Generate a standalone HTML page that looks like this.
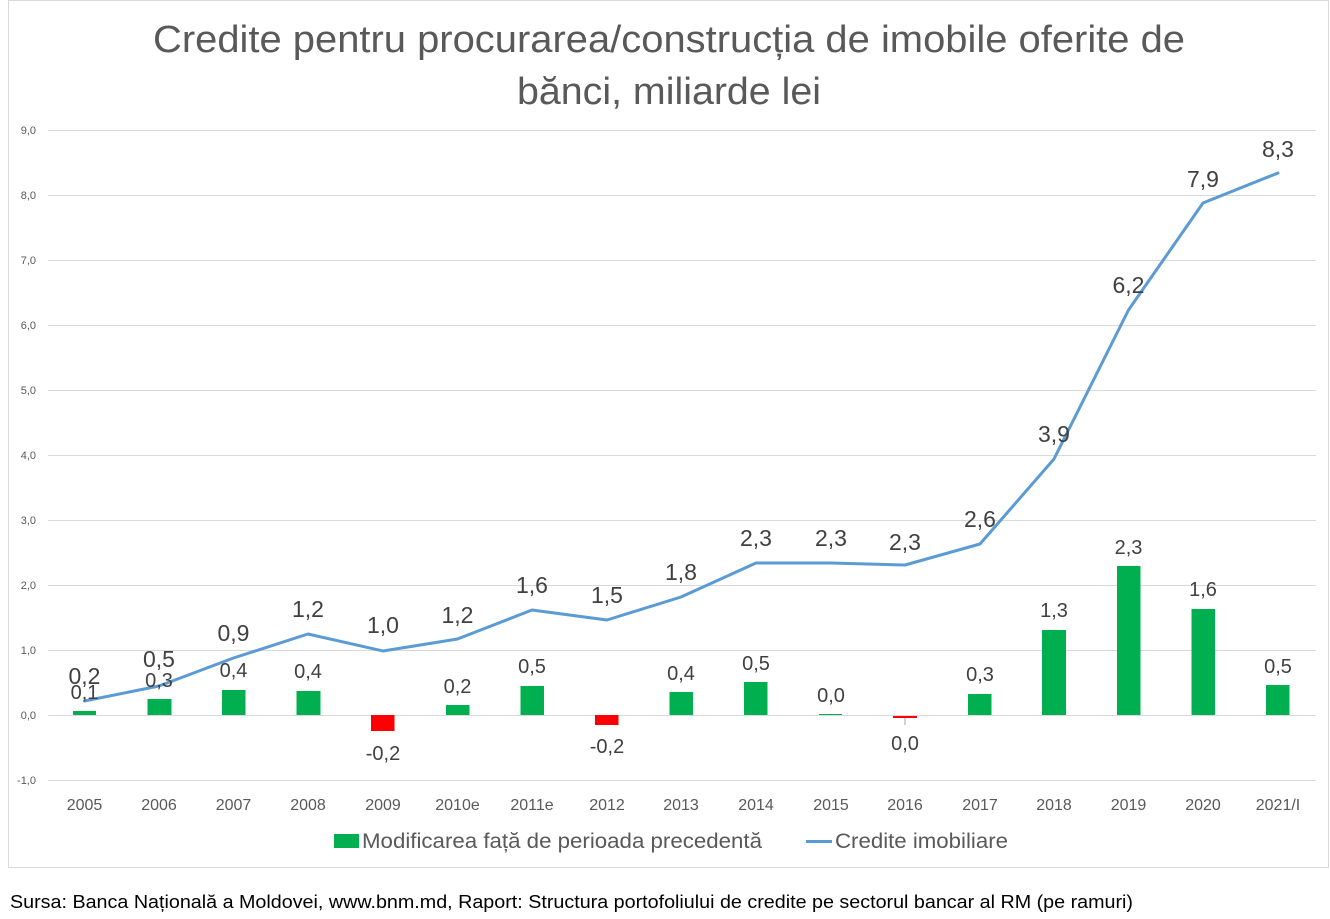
<!DOCTYPE html>
<html>
<head>
<meta charset="utf-8">
<style>
html,body{margin:0;padding:0;background:#fff;}
svg{display:block;font-family:"Liberation Sans",Arial,sans-serif;}
</style>
</head>
<body>
<svg width="1330" height="919" viewBox="0 0 1330 919" xmlns="http://www.w3.org/2000/svg">
<rect x="0" y="0" width="1330" height="919" fill="#fff"/>
<rect x="8.5" y="0.5" width="1320" height="867" fill="#fff" stroke="#d9d9d9" stroke-width="1"/>

<!-- title -->
<text x="669" y="52" text-anchor="middle" font-size="38" fill="#595959" textLength="1032" lengthAdjust="spacingAndGlyphs">Credite pentru procurarea/construcția de imobile oferite de</text>
<text x="669" y="104" text-anchor="middle" font-size="38" fill="#595959" textLength="304" lengthAdjust="spacingAndGlyphs">bănci, miliarde lei</text>

<!-- gridlines -->
<g stroke="#d9d9d9" stroke-width="1">
<line x1="48" y1="130.5" x2="1316" y2="130.5"/>
<line x1="48" y1="195.5" x2="1316" y2="195.5"/>
<line x1="48" y1="260.5" x2="1316" y2="260.5"/>
<line x1="48" y1="325.5" x2="1316" y2="325.5"/>
<line x1="48" y1="390.5" x2="1316" y2="390.5"/>
<line x1="48" y1="455.5" x2="1316" y2="455.5"/>
<line x1="48" y1="520.5" x2="1316" y2="520.5"/>
<line x1="48" y1="585.5" x2="1316" y2="585.5"/>
<line x1="48" y1="650.5" x2="1316" y2="650.5"/>
<line x1="48" y1="715.5" x2="1316" y2="715.5"/>
<line x1="48" y1="780.5" x2="1316" y2="780.5"/>
</g>

<!-- y tick labels -->
<g font-size="11" fill="#595959" text-anchor="end">
<text x="36" y="134">9,0</text>
<text x="36" y="199">8,0</text>
<text x="36" y="264">7,0</text>
<text x="36" y="329">6,0</text>
<text x="36" y="394">5,0</text>
<text x="36" y="459">4,0</text>
<text x="36" y="524">3,0</text>
<text x="36" y="589">2,0</text>
<text x="36" y="654">1,0</text>
<text x="36" y="719">0,0</text>
<text x="36" y="784">-1,0</text>
</g>

<!-- bars -->
<g fill="#00b050">
<rect x="73" y="711" width="23" height="4"/>
<rect x="147.5" y="699" width="24" height="16"/>
<rect x="222" y="690" width="23.5" height="25"/>
<rect x="296.5" y="691" width="24" height="24"/>
<rect x="446" y="705" width="23.5" height="10"/>
<rect x="520.5" y="686" width="23.5" height="29"/>
<rect x="669.5" y="692" width="23.5" height="23"/>
<rect x="744" y="682" width="23.5" height="33"/>
<rect x="819" y="714" width="23" height="1"/>
<rect x="968" y="694" width="23.5" height="21"/>
<rect x="1042" y="630" width="24" height="85"/>
<rect x="1117" y="566" width="23.5" height="149"/>
<rect x="1191.5" y="609" width="23.5" height="106"/>
<rect x="1266" y="685" width="23.5" height="30"/>
</g>
<g fill="#ff0000">
<rect x="371" y="715" width="23.5" height="16"/>
<rect x="595" y="715" width="23.5" height="10"/>
<rect x="893" y="716" width="24" height="2"/>
</g>
<line x1="905" y1="718" x2="905" y2="725" stroke="#a6a6a6" stroke-width="1"/>

<!-- line -->
<polyline fill="none" stroke="#5b9bd5" stroke-width="3" stroke-linejoin="round" stroke-linecap="round"
points="84.5,701 159,686 233.5,658 308,634 383,651 457.5,639 532,610 607,620 681,597 756,563 831,563 905,565 980,544 1054,459 1128.5,310 1203,203 1278,173"/>

<!-- bar labels -->
<g font-size="20" fill="#404040" text-anchor="middle">
<text x="84.5" y="699">0,1</text>
<text x="159" y="687">0,3</text>
<text x="233.5" y="677">0,4</text>
<text x="308" y="678">0,4</text>
<text x="383" y="760">-0,2</text>
<text x="457.5" y="693">0,2</text>
<text x="532" y="673">0,5</text>
<text x="607" y="753">-0,2</text>
<text x="681" y="680">0,4</text>
<text x="756" y="670">0,5</text>
<text x="831" y="702">0,0</text>
<text x="905" y="750">0,0</text>
<text x="980" y="681">0,3</text>
<text x="1054" y="617">1,3</text>
<text x="1128.5" y="554">2,3</text>
<text x="1203" y="596">1,6</text>
<text x="1278" y="673">0,5</text>
</g>

<!-- line labels -->
<g font-size="23" fill="#404040" text-anchor="middle">
<text x="84.5" y="684">0,2</text>
<text x="159" y="667">0,5</text>
<text x="233.5" y="641">0,9</text>
<text x="308" y="617">1,2</text>
<text x="383" y="633">1,0</text>
<text x="457.5" y="623">1,2</text>
<text x="532" y="593">1,6</text>
<text x="607" y="603">1,5</text>
<text x="681" y="580">1,8</text>
<text x="756" y="546">2,3</text>
<text x="831" y="546">2,3</text>
<text x="905" y="550">2,3</text>
<text x="980" y="527">2,6</text>
<text x="1054" y="442">3,9</text>
<text x="1128.5" y="293">6,2</text>
<text x="1203" y="187">7,9</text>
<text x="1278" y="157">8,3</text>
</g>

<!-- category labels -->
<g font-size="16" fill="#595959" text-anchor="middle">
<text x="84.5" y="810">2005</text>
<text x="159" y="810">2006</text>
<text x="233.5" y="810">2007</text>
<text x="308" y="810">2008</text>
<text x="383" y="810">2009</text>
<text x="457.5" y="810">2010e</text>
<text x="532" y="810">2011e</text>
<text x="607" y="810">2012</text>
<text x="681" y="810">2013</text>
<text x="756" y="810">2014</text>
<text x="831" y="810">2015</text>
<text x="905" y="810">2016</text>
<text x="980" y="810">2017</text>
<text x="1054" y="810">2018</text>
<text x="1128.5" y="810">2019</text>
<text x="1203" y="810">2020</text>
<text x="1278" y="810">2021/I</text>
</g>

<!-- legend -->
<rect x="334" y="834" width="25" height="14" fill="#00b050"/>
<text x="362" y="848" font-size="21" fill="#595959" textLength="400" lengthAdjust="spacingAndGlyphs">Modificarea față de perioada precedentă</text>
<line x1="806" y1="841.5" x2="832" y2="841.5" stroke="#5b9bd5" stroke-width="3"/>
<text x="835" y="848" font-size="21" fill="#595959" textLength="173" lengthAdjust="spacingAndGlyphs">Credite imobiliare</text>

<!-- source -->
<text x="10" y="908" font-size="18" fill="#000" textLength="1123" lengthAdjust="spacingAndGlyphs">Sursa: Banca Națională a Moldovei, www.bnm.md, Raport: Structura portofoliului de credite pe sectorul bancar al RM (pe ramuri)</text>
</svg>
</body>
</html>
